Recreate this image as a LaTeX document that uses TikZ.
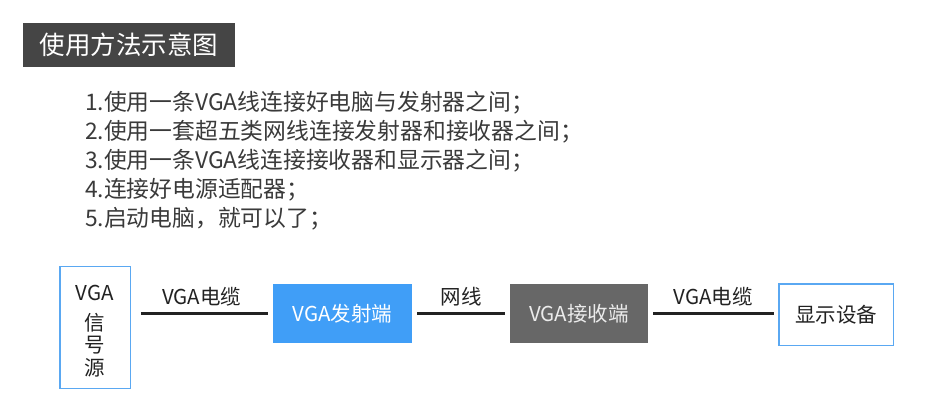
\documentclass[tikz,border=0pt]{standalone}
\usepackage{fontspec}
\newfontfamily\cjk{Noto Sans CJK SC}
\usetikzlibrary{positioning}

\definecolor{titlegray}{HTML}{454545}
\definecolor{stepgray}{HTML}{3A3A3A}
\definecolor{boxblue}{HTML}{5AA8F2}
\definecolor{fillblue}{HTML}{409EF7}
\definecolor{rxgray}{HTML}{676767}
\definecolor{linegray}{HTML}{222222}

\begin{document}
\begin{tikzpicture}[x=1pt,y=-1pt,
  title node/.style={rectangle,fill=titlegray,text=white,inner sep=0pt,outer sep=0pt,
    minimum width=212pt,minimum height=44pt,font=\cjk\fontsize{25.5}{30}\selectfont},
  step node/.style={anchor=base west,inner sep=0pt,text=stepgray,
    font=\cjk\fontsize{22.8}{29}\selectfont},
  frame node/.style={rectangle,draw=boxblue,line width=1.5pt,inner sep=0pt,outer sep=0pt,
    text=linegray,font=\cjk\fontsize{20.5}{22.5}\selectfont},
  fill node/.style={rectangle,inner sep=0pt,outer sep=0pt,minimum height=59pt,
    font=\cjk\fontsize{20.5}{22.5}\selectfont},
  cable/.style={draw=linegray,line width=2.3pt,shorten <=5pt,shorten >=5pt},
  cable label/.style={above=6pt,inner sep=0pt,text=linegray,
    font=\cjk\fontsize{20.5}{22.5}\selectfont}]

  \useasboundingbox[fill=white] (0,0) rectangle (930,415);

  % title
  \node[title node] (title) at (129,45) {使用方法示意图};

  % steps
  \node[step node] (step1) at (85,110) {1.使用一条VGA线连接好电脑与发射器之间；};
  \node[step node] (step2) at (85,139) {2.使用一套超五类网线连接发射器和接收器之间；};
  \node[step node] (step3) at (85,168) {3.使用一条VGA线连接接收器和显示器之间；};
  \node[step node] (step4) at (85,197) {4.连接好电源适配器；};
  \node[step node] (step5) at (85,226) {5.启动电脑，就可以了；};

  % chain
  \node[frame node,minimum width=70.5pt,minimum height=122pt] (src) at (95,327.5) {};
  \node[inner sep=0pt,align=center,text=linegray,font=\cjk\fontsize{20.5}{22.5}\selectfont]
    (srctext) at ([yshift=-3.5pt]src.center) {VGA\\[7.8pt]信\\号\\源};
  \node[fill node,fill=fillblue,text=white,minimum width=139pt] (tx) at (342.5,313.5) {VGA发射端};
  \node[fill node,fill=rxgray,text=white!92!black,minimum width=138pt] (rx) at (579,313.5) {VGA接收端};
  \node[frame node,minimum width=114.5pt,minimum height=61.5pt] (disp) at (836,314.5) {显示设备};

  \path[cable]
    (src.east |- tx) edge[shorten <=10.5pt] node[cable label] {VGA电缆} (tx)
    (tx) edge node[cable label] {网线} (rx)
    (rx) edge node[cable label] {VGA电缆} (rx -| disp.west);
\end{tikzpicture}
\end{document}
